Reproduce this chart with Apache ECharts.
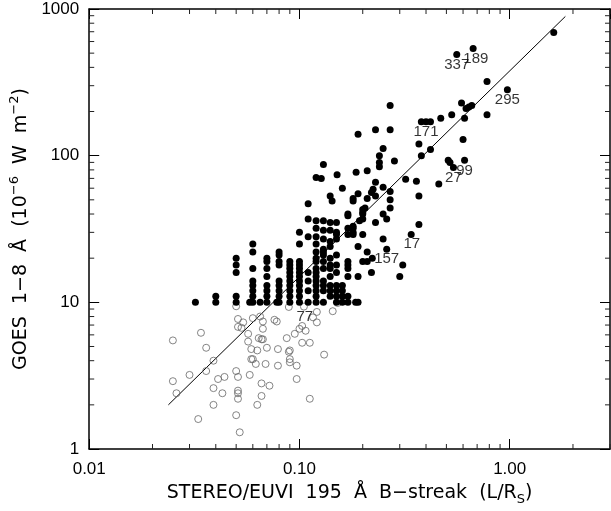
<!DOCTYPE html>
<html>
<head>
<meta charset="utf-8">
<script src="https://cdn.jsdelivr.net/npm/echarts@6/dist/echarts.min.js"></script>
<style>
  html, body { margin: 0; padding: 0; background: #fff; }
  #chart { width: 611px; height: 511px; }
</style>
</head>
<body>
<div id="chart"></div>
<script>
// flares above C1 (filled) : [B-streak length L/Rs, GOES flux 1e-6 W m-2]
const flaresFilled = [
  [0.032,10],
  [0.04,10],[0.04,11],
  [0.05,10],[0.05,11],[0.05,16],[0.05,18],[0.05,20],
  [0.058,10],[0.06,10],[0.06,11],[0.06,12],[0.06,13],[0.06,14],[0.06,17],[0.06,22],[0.06,25],
  [0.065,10],
  [0.07,10],[0.07,11],[0.07,12],[0.07,13],[0.07,15],[0.07,17],[0.07,19],[0.07,20],
  [0.078,10],[0.08,10],[0.08,11],[0.08,12],[0.08,13],[0.08,14],[0.08,18],[0.08,19],[0.08,21],[0.08,22],
  [0.09,10],[0.09,11],[0.09,12],[0.09,13],[0.09,14],[0.09,15],[0.09,16],[0.09,17],[0.09,18],[0.09,19],
  [0.1,10],[0.1,11],[0.1,12],[0.1,13],[0.1,14],[0.1,15],[0.1,16],[0.1,17],[0.1,18],[0.1,19],[0.1,25],[0.1,30],
  [0.11,10],[0.11,12],[0.11,14],[0.11,16],[0.11,28],[0.11,37],[0.11,47],
  [0.12,10],[0.12,11],[0.12,12],[0.12,13],[0.12,14],[0.12,15],[0.12,16],[0.12,17],[0.12,19],[0.12,20],[0.12,22],[0.12,25],[0.12,28],[0.12,32],[0.12,36],[0.12,71],
  [0.13,10],[0.13,12],[0.13,13],[0.13,14],[0.13,17],[0.13,19],[0.13,21],[0.13,22],[0.13,23],[0.13,27],[0.13,31],[0.13,36],[0.127,70],[0.13,87],
  [0.14,11],[0.14,12],[0.14,13],[0.14,15],[0.14,17],[0.14,18],[0.14,20],[0.14,24],[0.14,26],[0.14,31],[0.14,35],[0.14,53],[0.143,49],
  [0.15,10],[0.15,11],[0.15,12],[0.15,13],[0.15,16],[0.15,18],[0.15,21],[0.15,27],[0.15,29],[0.15,30],[0.15,35],[0.151,74],
  [0.16,10],[0.16,11],[0.16,12],[0.16,13],[0.16,60],
  [0.17,10],[0.17,11],[0.17,15],[0.17,17],[0.17,18],[0.17,19],[0.17,29],[0.17,32],[0.17,39],[0.17,40],
  [0.18,29],[0.18,30],[0.18,32],[0.18,33],[0.18,49],[0.18,51],
  [0.185,10],[0.19,10],[0.19,15],[0.19,24],[0.193,36],[0.19,55],[0.186,77],[0.19,140],
  [0.2,19],[0.2,29],[0.2,37],[0.2,40],[0.2,41],[0.2,43],[0.205,44],
  [0.21,19],[0.21,22],[0.21,51],[0.21,79],
  [0.22,16],[0.222,20],[0.22,56],[0.224,59],[0.23,35],[0.23,53],[0.23,66],[0.23,150],
  [0.25,27],[0.25,40],[0.25,61],[0.25,112],[0.24,84],[0.24,90],[0.24,100],[0.26,23],[0.26,37],
  [0.27,44],[0.27,50],[0.27,57],[0.27,150],[0.27,220],[0.283,92],
  [0.3,15],[0.31,18],[0.32,69],[0.34,29],[0.36,67],[0.37,34],[0.37,53],[0.37,120],[0.38,100],
  [0.38,170],[0.4,170],[0.42,170],[0.42,110],
  [0.46,64],[0.47,180],[0.51,93],[0.52,90],[0.54,83],[0.53,190],[0.56,490],[0.59,229],[0.6,129],
  [0.61,93],[0.61,180],[0.62,210],[0.64,215],[0.66,220],[0.67,538],[0.78,320],[0.78,190],[0.975,281],[1.62,692]
];

// weaker flares (open circles)
const flaresOpen = [
  [0.025,5.5],[0.025,2.9],[0.026,2.4],[0.03,3.2],[0.033,1.6],[0.034,6.2],[0.036,4.9],[0.036,3.4],
  [0.039,4.0],[0.039,2.6],[0.039,2.0],[0.041,3.0],[0.043,2.4],[0.044,3.1],
  [0.05,9.4],[0.051,7.7],[0.051,6.8],[0.053,6.7],[0.054,7.3],[0.05,3.4],[0.051,3.1],[0.051,2.5],
  [0.051,2.4],[0.051,2.2],[0.05,1.7],[0.052,1.3],
  [0.057,6.1],[0.057,5.4],[0.058,3.2],[0.059,4.8],[0.059,4.1],[0.06,7.8],[0.06,4.1],[0.062,3.8],
  [0.063,4.7],[0.063,2.0],[0.064,5.7],[0.065,8.0],[0.066,5.6],[0.066,2.8],[0.066,2.3],[0.067,7.4],
  [0.067,6.6],[0.067,5.6],[0.069,3.8],[0.07,4.9],[0.072,2.7],[0.076,7.6],[0.078,7.4],[0.079,4.8],[0.079,3.7],
  [0.087,5.7],[0.089,9.3],[0.089,4.6],[0.09,4.7],[0.09,4.1],[0.09,3.9],[0.095,6.1],[0.097,3.7],
  [0.097,3.0],[0.1,6.6],[0.103,6.9],[0.103,5.3],[0.105,9.35],[0.107,6.4],[0.112,5.3],[0.112,2.2],
  [0.116,7.9],[0.121,8.6],[0.121,7.3],[0.131,4.4],[0.144,8.7],[0.152,9.9]
];

// power-law fit, end points
const fitLine = [[0.0238, 2.0], [1.84, 890]];

// event numbers written next to some points
const eventLabels = ['337', '189', '295', '171', '27', '99', '17', '157', '77'];
const eventLabelX = [0.56, 0.69, 0.975, 0.40, 0.54, 0.61, 0.342, 0.26, 0.106];
const eventLabelY = [419, 458, 240, 146, 71, 79, 25, 19.8, 8.0];

const xMinorTicks = [0.02,0.03,0.04,0.05,0.06,0.07,0.08,0.09,0.2,0.3,0.4,0.5,0.6,0.7,0.8,0.9,2,3];
const yMinorTicks = [2,3,4,5,6,7,8,9,20,30,40,50,60,70,80,90,200,300,400,500,600,700,800,900];

const FONT = "'Liberation Sans', Arial, Helvetica, sans-serif";
const TITLE_FONT = "'DejaVu Sans', 'Liberation Sans', sans-serif";
const X_MIN = 0.01, X_MAX = 3, Y_MIN = 1, Y_MAX = 1000;

const chart = echarts.init(document.getElementById('chart'), null, { renderer: 'canvas' });

function isDecade(v) {
  const l = Math.log10(v);
  return Math.abs(l - Math.round(l)) < 1e-6;
}

function baseAxis(extra) {
  return Object.assign({
    type: 'log',
    logBase: 10,
    axisLine: { show: true, onZero: false, lineStyle: { color: '#000', width: 1.5 } },
    axisTick: { show: true, inside: true, length: 10, lineStyle: { color: '#000', width: 1 } },
    splitLine: { show: false },
    minorTick: { show: false }
  }, extra);
}

function minorTickItem(isX) {
  return function (params, api) {
    const cs = params.coordSys;
    const v = api.value(isX ? 0 : 1);
    const len = 5;
    const style = { stroke: '#222', lineWidth: 1 };
    if (isX) {
      const x = api.coord([v, Y_MIN])[0];
      return { type: 'group', children: [
        { type: 'line', shape: { x1: x, y1: cs.y + cs.height, x2: x, y2: cs.y + cs.height - len }, style: style },
        { type: 'line', shape: { x1: x, y1: cs.y, x2: x, y2: cs.y + len }, style: style }
      ]};
    }
    const y = api.coord([X_MIN, v])[1];
    return { type: 'group', children: [
      { type: 'line', shape: { x1: cs.x, y1: y, x2: cs.x + len, y2: y }, style: style },
      { type: 'line', shape: { x1: cs.x + cs.width, y1: y, x2: cs.x + cs.width - len, y2: y }, style: style }
    ]};
  };
}

chart.setOption({
  backgroundColor: '#fff',
  animation: false,
  grid: { left: 81, right: 1, top: 9, bottom: 59 },
  xAxis: [
    baseAxis({
      position: 'bottom', min: X_MIN, max: X_MAX,
      name: '{t|STEREO/EUVI  195  Å  B−streak  (L/R}{b|S}{t|)}',
      nameLocation: 'middle', nameGap: 31,
      nameTextStyle: {
        rich: {
          t: { fontFamily: TITLE_FONT, fontSize: 19, color: '#000', lineHeight: 26 },
          b: { fontFamily: TITLE_FONT, fontSize: 13, color: '#000', verticalAlign: 'bottom', lineHeight: 20 }
        }
      },
      axisLabel: {
        show: true, margin: 12, fontFamily: FONT, fontSize: 17, color: '#000',
        showMaxLabel: false, alignMinLabel: 'center', alignMaxLabel: 'center',
        formatter: function (v) { return isDecade(v) ? v.toFixed(2) : ''; }
      }
    }),
    baseAxis({
      position: 'top', min: X_MIN, max: X_MAX,
      axisLabel: { show: false }
    })
  ],
  yAxis: [
    baseAxis({
      position: 'left', min: Y_MIN, max: Y_MAX,
      name: '{t|GOES  1−8  Å  (10}{s|−6}{t|  W  m}{s|−2}{t|)}',
      nameLocation: 'middle', nameGap: 38, nameRotate: 90,
      nameTextStyle: {
        rich: {
          t: { fontFamily: TITLE_FONT, fontSize: 19, color: '#000', lineHeight: 26 },
          s: { fontFamily: TITLE_FONT, fontSize: 13, color: '#000', verticalAlign: 'top', lineHeight: 14 }
        }
      },
      axisLabel: {
        show: true, margin: 10, fontFamily: FONT, fontSize: 17, color: '#000',
        formatter: function (v) { return isDecade(v) ? String(Math.round(v)) : ''; }
      }
    }),
    baseAxis({
      position: 'right', min: Y_MIN, max: Y_MAX,
      axisLabel: { show: false }
    })
  ],
  series: [
    {
      type: 'custom', name: 'xminor', silent: true, clip: false,
      renderItem: minorTickItem(true),
      data: xMinorTicks.map(function (v) { return [v, Y_MIN]; }),
      z: 1
    },
    {
      type: 'custom', name: 'yminor', silent: true, clip: false,
      renderItem: minorTickItem(false),
      data: yMinorTicks.map(function (v) { return [X_MIN, v]; }),
      z: 1
    },
    {
      type: 'line', name: 'fit', data: fitLine, symbol: 'none',
      lineStyle: { color: '#000', width: 1 }, z: 2
    },
    {
      type: 'scatter', name: 'open', data: flaresOpen, symbol: 'circle', symbolSize: 7,
      itemStyle: { color: 'rgba(255,255,255,0)', borderColor: '#666', borderWidth: 1 }, z: 3
    },
    {
      type: 'scatter', name: 'filled', data: flaresFilled, symbol: 'circle', symbolSize: 7,
      itemStyle: { color: '#000', opacity: 1 }, z: 4
    },
    {
      type: 'scatter', name: 'labels', symbolSize: 0, silent: true, z: 5,
      data: eventLabels.map(function (t, i) {
        return { name: t, value: [eventLabelX[i], eventLabelY[i]] };
      }),
      label: {
        show: true, position: 'inside', color: '#000',
        fontFamily: "'Liberation Sans Narrow', 'Liberation Sans', sans-serif", fontSize: 15,
        formatter: function (p) { return p.name; }
      }
    }
  ]
});
</script>
</body>
</html>
